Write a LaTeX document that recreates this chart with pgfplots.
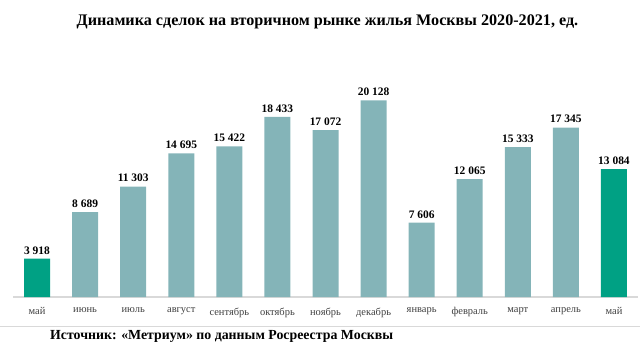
\documentclass[border=0pt]{standalone}
\usepackage{fontspec}
\setmainfont{Liberation Serif}
\usepackage{pgfplots}
\pgfplotsset{compat=1.18}
\definecolor{barteal}{HTML}{84B4B8}
\definecolor{bargreen}{HTML}{00A184}
\definecolor{axgray}{HTML}{D9D9D9}
\definecolor{ticktext}{HTML}{404040}
\begin{document}
\begin{tikzpicture}[x=1bp,y=1bp]
\path[use as bounding box] (0,0) rectangle (640,354);
\node[font=\fontsize{16.2}{18}\selectfont\bfseries] at (327.5,332) {Динамика сделок на вторичном рынке жилья Москвы 2020-2021, ед.};
\begin{axis}[
  at={(13bp,57bp)}, anchor=south west,
  width=625bp, height=234.5bp, scale only axis,
  xmin=-0.5, xmax=12.5, ymin=0, ymax=24000,
  enlargelimits=false, clip=false,
  axis x line=bottom, axis y line=none,
  axis line style={-, draw=axgray, line width=1.5bp},
  xtick={0,...,12},
  xticklabels={май,июнь,июль,август,сентябрь,октябрь,ноябрь,декабрь,январь,февраль,март,апрель,май},
  major tick length=0pt,
  xticklabel style={font=\fontsize{10.5}{12}\selectfont, text=ticktext, yshift=-7bp},
  ytick=\empty,
  ybar, bar width=26bp, bar shift=0pt,
  nodes near coords,
  nodes near coords style={font=\fontsize{11.5}{13}\selectfont\bfseries, text=black, anchor=south, yshift=1bp},
  /pgf/number format/.cd, 1000 sep={\ }, assume math mode=true,
]
\addplot[fill=barteal, draw=none] coordinates {(1,8689) (2,11303) (3,14695) (4,15422) (5,18433) (6,17072) (7,20128) (8,7606) (9,12065) (10,15333) (11,17345)};
\addplot[fill=bargreen, draw=none] coordinates {(0,3918) (12,13084)};
\end{axis}
\draw[axgray, line width=1bp] (0,28) -- (640,28);
\node[anchor=west, inner sep=0pt, font=\fontsize{13.9}{15}\selectfont\bfseries] at (50,18) {Источник: «Метриум» по данным Росреестра Москвы};
\end{tikzpicture}
\end{document}
